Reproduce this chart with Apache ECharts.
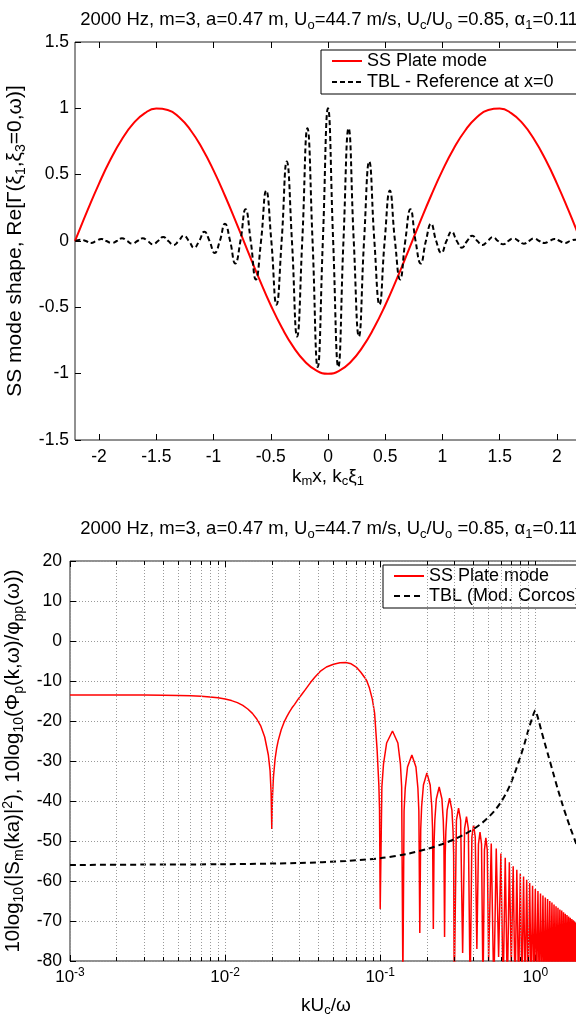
<!DOCTYPE html>
<html><head><meta charset="utf-8">
<script src="https://cdn.jsdelivr.net/npm/echarts@6/dist/echarts.min.js"></script>
<style>html,body{margin:0;padding:0;background:#fff}#c{width:576px;height:1016px}</style>
</head><body><div id="c"></div>
<script>
// ---------- data (top panel) ----------
const topXTicks = [-2, -1.5, -1, -0.5, 0, 0.5, 1, 1.5, 2];
const modeX = [-2.21, -2.2, -2.1, -2.0, -1.9, -1.8, -1.7, -1.6, -1.5, -1.4, -1.3, -1.2, -1.1, -1.0, -0.9, -0.8, -0.7, -0.6, -0.5, -0.4, -0.3, -0.2, -0.1, 0,
  0.1, 0.2, 0.3, 0.4, 0.5, 0.6, 0.7, 0.8, 0.9, 1.0, 1.1, 1.2, 1.3, 1.4, 1.5, 1.6, 1.7, 1.8, 1.9, 2.0, 2.1, 2.2, 2.21];
const modeY = [0, 0.021, 0.232, 0.433, 0.614, 0.767, 0.886, 0.964, 0.998, 0.988, 0.933, 0.835, 0.699, 0.532, 0.341, 0.135, -0.078, -0.287, -0.484, -0.658, -0.802, -0.910, -0.977, -1,
  -0.977, -0.910, -0.802, -0.658, -0.484, -0.287, -0.078, 0.135, 0.341, 0.532, 0.699, 0.835, 0.933, 0.988, 0.998, 0.964, 0.886, 0.767, 0.614, 0.433, 0.232, 0.021, 0];
const tblX = [-2.205, -2.16, -2.115, -2.07, -2.025, -1.98, -1.935, -1.89, -1.845, -1.8, -1.755, -1.71, -1.665, -1.62, -1.575, -1.53, -1.485, -1.44, -1.395, -1.35,
  -1.305, -1.26, -1.215, -1.17, -1.125, -1.08, -1.035, -0.99, -0.945, -0.9, -0.855, -0.81, -0.765, -0.72, -0.675, -0.63, -0.585, -0.54, -0.495, -0.45,
  -0.405, -0.36, -0.315, -0.27, -0.225, -0.18, -0.135, -0.09, -0.045, 0,
  0.045, 0.09, 0.135, 0.18, 0.225, 0.27, 0.315, 0.36, 0.405, 0.45, 0.495, 0.54, 0.585, 0.63, 0.675, 0.72, 0.765, 0.81, 0.855, 0.9,
  0.945, 0.99, 1.035, 1.08, 1.125, 1.17, 1.215, 1.26, 1.305, 1.35, 1.395, 1.44, 1.485, 1.53, 1.575, 1.62, 1.665, 1.71, 1.755, 1.8,
  1.845, 1.89, 1.935, 1.98, 2.025, 2.07, 2.115, 2.16, 2.205];
const tblY = [0, 0.01, 0, -0.015, 0, 0.015, 0, -0.015, 0, 0.02, 0, -0.02, 0, 0.02, 0, -0.025, 0, 0.03, 0, -0.03,
  0, 0.04, 0, -0.05, 0, 0.07, 0, -0.09, 0, 0.13, 0, -0.17, 0, 0.24, 0, -0.29, 0, 0.38, 0, -0.48,
  0, 0.6, 0, -0.72, 0, 0.85, 0, -0.95, 0, 1.0,
  0, -0.95, 0, 0.85, 0, -0.72, 0, 0.6, 0, -0.48, 0, 0.38, 0, -0.29, 0, 0.24, 0, -0.17, 0, 0.13,
  0, -0.09, 0, 0.07, 0, -0.05, 0, 0.04, 0, -0.03, 0, 0.03, 0, -0.025, 0, 0.02, 0, -0.02, 0, 0.02,
  0, -0.015, 0, 0.015, 0, -0.015, 0, 0.01, 0];

// ---------- data (bottom panel) ----------
const minorK = [0.002, 0.003, 0.004, 0.005, 0.006, 0.007, 0.008, 0.009,
  0.02, 0.03, 0.04, 0.05, 0.06, 0.07, 0.08, 0.09,
  0.2, 0.3, 0.4, 0.5, 0.6, 0.7, 0.8, 0.9];
const plateSpec = [
  [0.001, -13.5], [0.002, -13.5], [0.003, -13.5], [0.004, -13.55], [0.005, -13.6], [0.006, -13.7], [0.007, -13.8], [0.008, -14.0], [0.009, -14.2],
  [0.010, -14.5], [0.011, -14.9], [0.012, -15.4], [0.013, -16.1], [0.014, -17.0], [0.015, -18.1], [0.016, -19.5], [0.017, -21.3], [0.018, -24.0],
  [0.019, -28.5], [0.0195, -32.5], [0.0198, -38], [0.0200, -47], [0.0202, -39], [0.0205, -34], [0.021, -29.5], [0.0215, -26.8], [0.022, -24.9],
  [0.023, -22.2], [0.024, -20.3], [0.025, -18.9], [0.026, -17.7], [0.027, -16.7], [0.028, -15.9], [0.0295, -14.6], [0.031, -13.5], [0.033, -12.1],
  [0.0355, -10.4], [0.038, -9.0], [0.041, -7.6], [0.045, -6.5], [0.050, -5.8], [0.055, -5.45], [0.060, -5.4], [0.065, -5.7], [0.0705, -6.6],
  [0.075, -7.8], [0.080, -9.3], [0.082, -10.0], [0.085, -11.6], [0.089, -14.6], [0.092, -18.0], [0.0955, -27.2], [0.098, -36], [0.099, -42], [0.1, -67],
  [0.1025, -36.5], [0.105, -30.8], [0.11, -25.5], [0.12, -22.5], [0.13, -25.5], [0.135, -30.8], [0.1375, -36.5], [0.14, -85],
  [0.1425, -42.5], [0.145, -36.8], [0.15, -31.5], [0.16, -28.5], [0.17, -31.5], [0.175, -36.8], [0.1775, -42.5], [0.18, -73],
  [0.1825, -47], [0.185, -41.3], [0.19, -36], [0.2, -33], [0.21, -36], [0.215, -41.3], [0.2175, -47], [0.22, -72],
  [0.2225, -50.5], [0.225, -44.8], [0.23, -39.5], [0.24, -36.5], [0.25, -39.5], [0.255, -44.8], [0.2575, -50.5], [0.26, -74],
  [0.2625, -53.3], [0.265, -47.6], [0.27, -42.3], [0.28, -39.3], [0.29, -42.3], [0.295, -47.6], [0.2975, -53.3], [0.3, -88],
  [0.31, -44.8], [0.32, -41.8], [0.33, -44.8], [0.34, -78],
  [0.35, -46.9], [0.36, -43.9], [0.37, -46.9], [0.38, -88],
  [0.39, -49.0], [0.40, -46.0], [0.41, -49.0], [0.42, -77],
  [0.43, -50.8], [0.44, -47.8], [0.45, -50.8], [0.46, -88],
  [0.47, -52.2], [0.48, -49.2], [0.49, -52.2], [0.50, -80],
  [0.52, -50.6], [0.54, -88], [0.56, -51.9], [0.58, -79], [0.60, -53.1], [0.62, -88], [0.64, -54.2], [0.66, -88], [0.68, -55.3], [0.70, -81],
  [0.72, -56.3], [0.74, -88], [0.76, -57.2], [0.78, -88], [0.80, -58.1], [0.82, -88], [0.84, -58.9], [0.86, -88], [0.88, -59.7], [0.90, -88],
  [0.92, -60.5], [0.94, -88], [0.96, -61.2], [0.98, -88], [1.00, -62.0], [1.02, -88], [1.04, -62.5], [1.06, -88], [1.08, -63.1], [1.10, -88],
  [1.12, -63.6], [1.14, -88], [1.16, -64.1], [1.18, -88], [1.20, -64.5], [1.22, -88], [1.24, -65.0], [1.26, -88], [1.28, -65.4], [1.30, -88],
  [1.32, -65.9], [1.34, -88], [1.36, -66.3], [1.38, -88], [1.40, -66.7], [1.42, -88], [1.44, -67.1], [1.46, -88], [1.48, -67.4], [1.50, -88],
  [1.52, -67.8], [1.54, -88], [1.56, -68.2], [1.58, -88], [1.60, -68.5], [1.62, -88], [1.64, -68.9], [1.66, -88], [1.68, -69.2], [1.70, -88],
  [1.72, -69.5], [1.74, -88], [1.76, -69.8], [1.78, -88], [1.80, -70.2], [1.82, -88], [1.84, -70.5], [1.86, -88], [1.88, -70.8], [1.90, -88],
  [1.92, -71.1], [1.94, -88], [1.96, -71.3], [1.98, -88], [2.00, -71.6]
];
const corcosSpec = [
  [0.001, -56.0], [0.003, -55.9], [0.01, -55.8], [0.03, -55.5], [0.06, -55.0], [0.1, -54.3], [0.15, -53.2], [0.2, -52.0], [0.25, -50.8],
  [0.3, -49.6], [0.35, -48.3], [0.4, -47.0], [0.45, -45.6], [0.5, -44.0], [0.55, -42.3], [0.6, -40.3], [0.65, -38.0], [0.7, -35.3],
  [0.75, -32.2], [0.8, -29.0], [0.85, -25.8], [0.9, -22.4], [0.95, -19.5], [0.975, -18.2], [1.0, -17.3], [1.025, -18.4], [1.05, -19.8],
  [1.1, -22.8], [1.15, -25.5], [1.2, -28.0], [1.3, -32.8], [1.4, -37.2], [1.5, -41.0], [1.6, -44.3], [1.7, -47.2], [1.8, -49.8],
  [1.9, -52.2], [2.0, -54.4]
];

// ---------- styling ----------
const FONT = '"Liberation Sans", Arial, Helvetica, sans-serif';
const mkRich = (sub) => ({
  s: { fontSize: sub, fontFamily: FONT, color: '#000', padding: [Math.round(sub * 0.75), 0, 0, 0] },
  p: { fontSize: sub, fontFamily: FONT, color: '#000', padding: [0, 0, Math.round(sub * 0.75), 0] },
  b: { fontSize: 17, fontFamily: FONT, color: '#000' }
});
const txt = (size, sub) => ({ fontSize: size, fontWeight: 'normal', fontFamily: FONT, color: '#000', rich: mkRich(sub) });
const titleText = '2000 Hz, m=3, a=0.47 m, U{s|o}=44.7 m/s, U{s|c}/U{s|o} =0.85, \u03b1{s|1}=0.11';
const tickStyle = { inside: true, length: 6, lineStyle: { color: '#000', width: 1 } };
const noLine = { show: false, onZero: false };

const minorLines = [];
minorK.forEach(k => {
  minorLines.push([{ coord: [k, -80], lineStyle: { color: '#9a9a9a', type: [1, 2], width: 1 } }, { coord: [k, 20] }]);
  minorLines.push([{ coord: [k, -80], lineStyle: { color: '#000', type: 'solid', width: 1 } }, { coord: [k, -79] }]);
  minorLines.push([{ coord: [k, 20], lineStyle: { color: '#000', type: 'solid', width: 1 } }, { coord: [k, 19] }]);
});

const logLabel = function (v) {
  const e = Math.log10(v);
  const r = Math.round(e);
  if (Math.abs(e - r) > 1e-6) return '';
  return '{b|10}{p|' + r + '}';
};

const legendBase = {
  orient: 'vertical', itemWidth: 30, itemHeight: 12, padding: [2, 40, 3, 10], selectedMode: false,
  borderColor: '#000', borderWidth: 1, backgroundColor: '#fff', itemStyle: { opacity: 0 },
  textStyle: { fontSize: 18, fontFamily: FONT, color: '#000' }
};

const chart = echarts.init(document.getElementById('c'), null, { renderer: 'canvas' });
chart.setOption({
  animation: false,
  backgroundColor: '#fff',
  title: [
    { text: titleText, left: 324, top: 15, textAlign: 'center', textVerticalAlign: 'middle', textStyle: txt(18.5, 13) },
    { text: titleText, left: 324, top: 524, textAlign: 'center', textVerticalAlign: 'middle', textStyle: txt(18.5, 13) }
  ],
  legend: [
    Object.assign({ data: ['SS Plate mode', 'TBL - Reference at x=0'], left: 321, top: 50, itemGap: 3 }, legendBase),
    Object.assign({ data: ['SS Plate mode', 'TBL (Mod. Corcos)'], left: 383, top: 565, itemGap: 2 }, legendBase)
  ],
  grid: [
    { left: 75, top: 42, width: 506, height: 398, show: true, borderColor: '#222', borderWidth: 1, backgroundColor: 'transparent', containLabel: false, outerBoundsMode: 'none' },
    { left: 70, top: 561, width: 512, height: 400, show: true, borderColor: '#222', borderWidth: 1, backgroundColor: 'transparent', containLabel: false, outerBoundsMode: 'none' }
  ],
  xAxis: [
    { type: 'value', gridIndex: 0, min: -2.21, max: 2.21, axisLine: noLine,
      axisTick: Object.assign({ customValues: topXTicks }, tickStyle),
      axisLabel: { customValues: topXTicks, fontSize: 17.5, fontFamily: FONT, color: '#000', margin: 8 },
      splitLine: { show: false },
      name: 'k{s|m}x, k{s|c}\u03be{s|1}', nameLocation: 'middle', nameGap: 22, nameTextStyle: txt(19, 13) },
    { type: 'value', gridIndex: 0, position: 'top', min: -2.21, max: 2.21, axisLine: noLine,
      axisTick: Object.assign({ customValues: topXTicks }, tickStyle), axisLabel: { show: false }, splitLine: { show: false } },
    { type: 'log', logBase: 10, gridIndex: 1, min: 0.001, max: 2, axisLine: noLine,
      axisTick: tickStyle,
      axisLabel: { formatter: logLabel, fontSize: 17, fontFamily: FONT, color: '#000', margin: 6, rich: mkRich(12) },
      splitLine: { show: true, lineStyle: { color: '#9a9a9a', type: [1, 2], width: 1 } },
      name: 'kU{s|c}/\u03c9', nameLocation: 'middle', nameGap: 33, nameTextStyle: txt(19, 13) },
    { type: 'log', logBase: 10, gridIndex: 1, position: 'top', min: 0.001, max: 2, axisLine: noLine,
      axisTick: tickStyle, axisLabel: { show: false }, splitLine: { show: false } }
  ],
  yAxis: [
    { type: 'value', gridIndex: 0, min: -1.5, max: 1.5, interval: 0.5, axisLine: noLine,
      axisTick: tickStyle, axisLabel: { fontSize: 17.5, fontFamily: FONT, color: '#000', margin: 6 },
      splitLine: { show: false },
      name: 'SS mode shape, Re[\u0393(\u03be{s|1},\u03be{s|3}=0,\u03c9)]', nameLocation: 'middle', nameGap: 42, nameRotate: 90, nameTextStyle: txt(21, 14) },
    { type: 'value', gridIndex: 1, min: -80, max: 20, interval: 10, axisLine: noLine,
      axisTick: tickStyle, axisLabel: { fontSize: 17.5, fontFamily: FONT, color: '#000', margin: 8 },
      splitLine: { show: true, lineStyle: { color: '#9a9a9a', type: [1, 2], width: 1 } },
      name: '10log{s|10}(|S{s|m}(ka)|{p|2}), 10log{s|10}(\u03a6{s|p}(k,\u03c9)/\u03c6{s|pp}(\u03c9))', nameLocation: 'middle', nameGap: 38, nameRotate: 90, nameTextStyle: txt(20.5, 14) }
  ],
  series: [
    { name: 'SS Plate mode', type: 'line', xAxisIndex: 0, yAxisIndex: 0, symbol: 'none', smooth: true,
      data: modeX.map((x, i) => [x, modeY[i]]), lineStyle: { color: '#ff0000', width: 2 }, itemStyle: { color: '#ff0000' } },
    { name: 'TBL - Reference at x=0', type: 'line', xAxisIndex: 0, yAxisIndex: 0, symbol: 'none', smooth: true,
      data: tblX.map((x, i) => [x, tblY[i]]), lineStyle: { color: '#000', width: 2, type: [5, 3] }, itemStyle: { color: '#000' } },
    { name: 'grid-minor', type: 'line', xAxisIndex: 2, yAxisIndex: 1, symbol: 'none', data: [], silent: true, z: 1,
      markLine: { silent: true, symbol: ['none', 'none'], label: { show: false }, animation: false, data: minorLines } },
    { name: 'SS Plate mode', type: 'line', xAxisIndex: 2, yAxisIndex: 1, symbol: 'none', smooth: false, clip: true,
      data: plateSpec, lineStyle: { color: '#ff0000', width: 1.5 }, itemStyle: { color: '#ff0000' } },
    { name: 'TBL (Mod. Corcos)', type: 'line', xAxisIndex: 2, yAxisIndex: 1, symbol: 'none', smooth: 0.3, clip: true,
      data: corcosSpec, lineStyle: { color: '#000', width: 2, type: [6, 4] }, itemStyle: { color: '#000' } }
  ]
});
</script></body></html>
